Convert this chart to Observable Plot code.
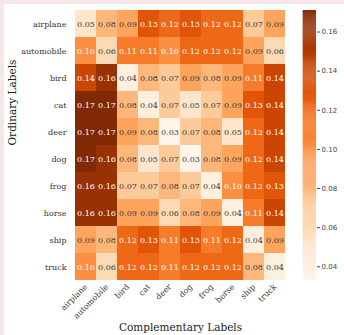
<!DOCTYPE html>
<html>
<head>
<meta charset="utf-8">
<script src="https://cdn.jsdelivr.net/npm/d3@7"></script>
<script src="https://cdn.jsdelivr.net/npm/@observablehq/plot@0.6"></script>
<style>
  html, body { margin: 0; padding: 0; background: #f7e6e8; }
  #wrap { position: absolute; left: 4px; top: 4px; width: 340px; height: 331px; background: #fff; }
  #wrap svg { position: absolute; left: 0; top: 0; overflow: visible; }
</style>
</head>
<body>
<div id="wrap"></div>
<script>
const classes = ["airplane","automobile","bird","cat","deer","dog","frog","horse","ship","truck"];
const airplane   = [0.05,0.08,0.09,0.13,0.12,0.13,0.12,0.12,0.07,0.09];
const automobile = [0.10,0.06,0.11,0.11,0.10,0.12,0.12,0.12,0.09,0.06];
const bird       = [0.14,0.16,0.04,0.08,0.07,0.09,0.08,0.09,0.11,0.14];
const cat        = [0.17,0.17,0.08,0.04,0.07,0.05,0.07,0.09,0.13,0.14];
const deer       = [0.17,0.17,0.09,0.08,0.03,0.07,0.08,0.05,0.12,0.14];
const dog        = [0.17,0.16,0.08,0.05,0.07,0.03,0.08,0.09,0.12,0.14];
const frog       = [0.16,0.16,0.07,0.07,0.08,0.07,0.04,0.10,0.12,0.13];
const horse      = [0.16,0.16,0.09,0.09,0.06,0.08,0.09,0.04,0.11,0.14];
const ship       = [0.09,0.08,0.12,0.13,0.11,0.13,0.11,0.12,0.04,0.09];
const truck      = [0.10,0.06,0.12,0.12,0.11,0.12,0.12,0.12,0.08,0.04];
const rows = [airplane, automobile, bird, cat, deer, dog, frog, horse, ship, truck];
const colorTicks = [0.04,0.06,0.08,0.10,0.12,0.14,0.16];
const colorDomain = [0.033, 0.171];

const data = [];
rows.forEach((r, i) => r.forEach((v, j) => data.push({ord: classes[i], comp: classes[j], v})));

const W = 340, H = 331;
const mt = 6, mb = 55, ml = 67, mr = 55;
const serif = "'DejaVu Serif', serif";

const main = Plot.plot({
  width: W, height: H,
  marginTop: mt, marginBottom: mb, marginLeft: ml, marginRight: mr,
  style: {fontFamily: serif, fontSize: "8px", background: "transparent", color: "#333"},
  x: {domain: classes, padding: 0, label: null, tickSize: 0, tickPadding: 5, tickRotate: -45},
  y: {domain: classes, padding: 0, label: null, tickSize: 0, tickPadding: 5},
  color: {type: "linear", scheme: "oranges", domain: colorDomain},
  marks: [
    Plot.cell(data, {x: "comp", y: "ord", fill: "v"}),
    Plot.text(data, {x: "comp", y: "ord", text: d => d.v.toFixed(2),
      fill: d => d.v >= 0.095 ? "#ffffff" : "#3a3a3a", fontSize: 8}),
    Plot.text(["Complementary Labels"], {frameAnchor: "bottom", dy: 50, fontSize: 10.5, fill: "#222", fontFamily: serif}),
    Plot.text(["Ordinary Labels"], {frameAnchor: "left", dx: -59, rotate: -90, fontSize: 10.5, fill: "#222", fontFamily: serif})
  ]
});
document.getElementById("wrap").appendChild(main);

const steps = d3.range(colorDomain[0], colorDomain[1], 0.0005);
const bar = Plot.plot({
  width: W, height: H,
  marginTop: mt, marginBottom: mb, marginLeft: 298.7, marginRight: W - 312,
  style: {fontFamily: "'DejaVu Sans', sans-serif", fontSize: "7px", background: "transparent", color: "#444"},
  x: {domain: [0, 1], axis: null},
  y: {domain: colorDomain, axis: "right", ticks: colorTicks, tickFormat: d3.format(".2f"), tickSize: 3, tickPadding: 2, label: null},
  color: {type: "linear", scheme: "oranges", domain: colorDomain},
  marks: [
    Plot.rect(steps, {x1: 0, x2: 1, y1: d => d, y2: d => Math.min(d + 0.0006, colorDomain[1]), fill: d => d})
  ]
});
document.getElementById("wrap").appendChild(bar);
</script>
</body>
</html>
